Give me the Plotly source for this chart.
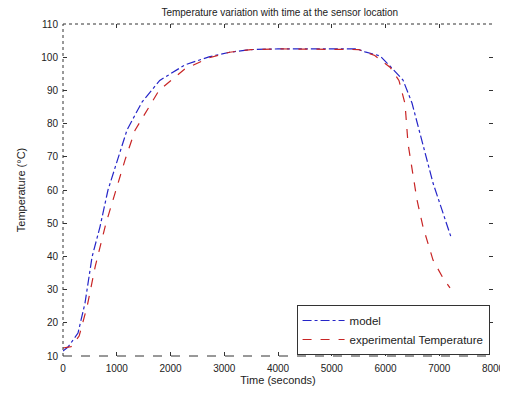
import plotly.graph_objects as go

# Model series
model_time = [0, 93, 279, 409, 540, 688, 837, 967, 1191, 1470, 1800, 2270, 2716,
              3100, 3500, 4000, 4500, 5000, 5470, 5619, 5898, 6121, 6326, 6493,
              6679, 6884, 7051, 7219]
model_temp = [11.5, 12.7, 16.9, 25.9, 39.8, 48.9, 60, 66.9, 78.1, 86.5, 93, 97.7, 100.1,
              101.5, 102.3, 102.5, 102.5, 102.5, 102.5, 101.6, 100.4, 96.7, 93.1, 86.2,
              75.1, 62.1, 54, 45.8]

# Experimental series
exp_time = [0, 150, 300, 450, 600, 800, 967, 1153, 1340, 1786, 2270, 2716, 3100,
            3500, 4000, 4500, 5000, 5500, 5800, 6084, 6250, 6363, 6419, 6493, 6586,
            6698, 6884, 7070, 7200]
exp_temp = [12.4, 12.8, 16, 25, 37, 50, 59, 69, 78, 90, 96.5, 99.8, 101.5,
            102.3, 102.5, 102.5, 102.5, 102.3, 100.5, 97, 93, 86, 74, 66, 57,
            48.9, 38.9, 33.5, 30.5]

x_ticks = [0, 1000, 2000, 3000, 4000, 5000, 6000, 7000, 8000]
y_ticks = [10, 20, 30, 40, 50, 60, 70, 80, 90, 100, 110]

FAM = "Liberation Sans, Arial, sans-serif"
tick_font = dict(family=FAM, size=10, color="#222")
label_font = dict(family=FAM, size=11, color="#222")
legend_font = dict(family=FAM, size=11.5, color="#222")

fig = go.Figure()
fig.add_trace(go.Scatter(x=model_time, y=model_temp, mode="lines", name="model",
                         line=dict(color="#2525c8", width=1.2, dash="dashdot")))
fig.add_trace(go.Scatter(x=exp_time, y=exp_temp, mode="lines", name="experimental Temperature",
                         line=dict(color="#c82525", width=1.2, dash="dash")))

axis_common = dict(showgrid=False, zeroline=False, ticks="inside", ticklen=4,
                   tickcolor="#333", showline=False, mirror="ticks",
                   tickfont=tick_font, automargin=False)

# frame: dotted left/top, dashed bottom (as in the reference rendering)
frame = [
    dict(type="line", xref="paper", yref="paper", x0=0, x1=0, y0=0, y1=1,
         line=dict(color="#333", width=1, dash="dot")),
    dict(type="line", xref="paper", yref="paper", x0=0, x1=1, y0=1, y1=1,
         line=dict(color="#333", width=1, dash="dot")),
    dict(type="line", xref="paper", yref="paper", x0=0, x1=1, y0=0, y1=0,
         line=dict(color="#333", width=1, dash="dash")),
]

fig.update_layout(
    width=508, height=395,
    margin=dict(l=55, r=23, t=16, b=47),
    paper_bgcolor="white", plot_bgcolor="white",
    font=tick_font,
    shapes=frame,
    title=dict(text="Temperature variation with time at the sensor location",
               x=0.535, xanchor="center", y=0.997, yanchor="top",
               font=dict(family=FAM, size=10, color="#222")),
    xaxis=dict(range=[0, 8000], tickvals=x_ticks, ticklabelstandoff=5,
               title=dict(text="Time (seconds)", font=label_font, standoff=2), **axis_common),
    yaxis=dict(range=[10, 110], tickvals=y_ticks, ticklabelstandoff=4,
               title=dict(text="Temperature (°C)", font=label_font, standoff=13), **axis_common),
    legend=dict(x=0.992, y=0.003, xanchor="right", yanchor="bottom",
                bgcolor="white", bordercolor="#333", borderwidth=1,
                font=legend_font, tracegroupgap=0, itemwidth=42,
                entrywidth=194),
    showlegend=True,
)

fig.write_html("out.html")
